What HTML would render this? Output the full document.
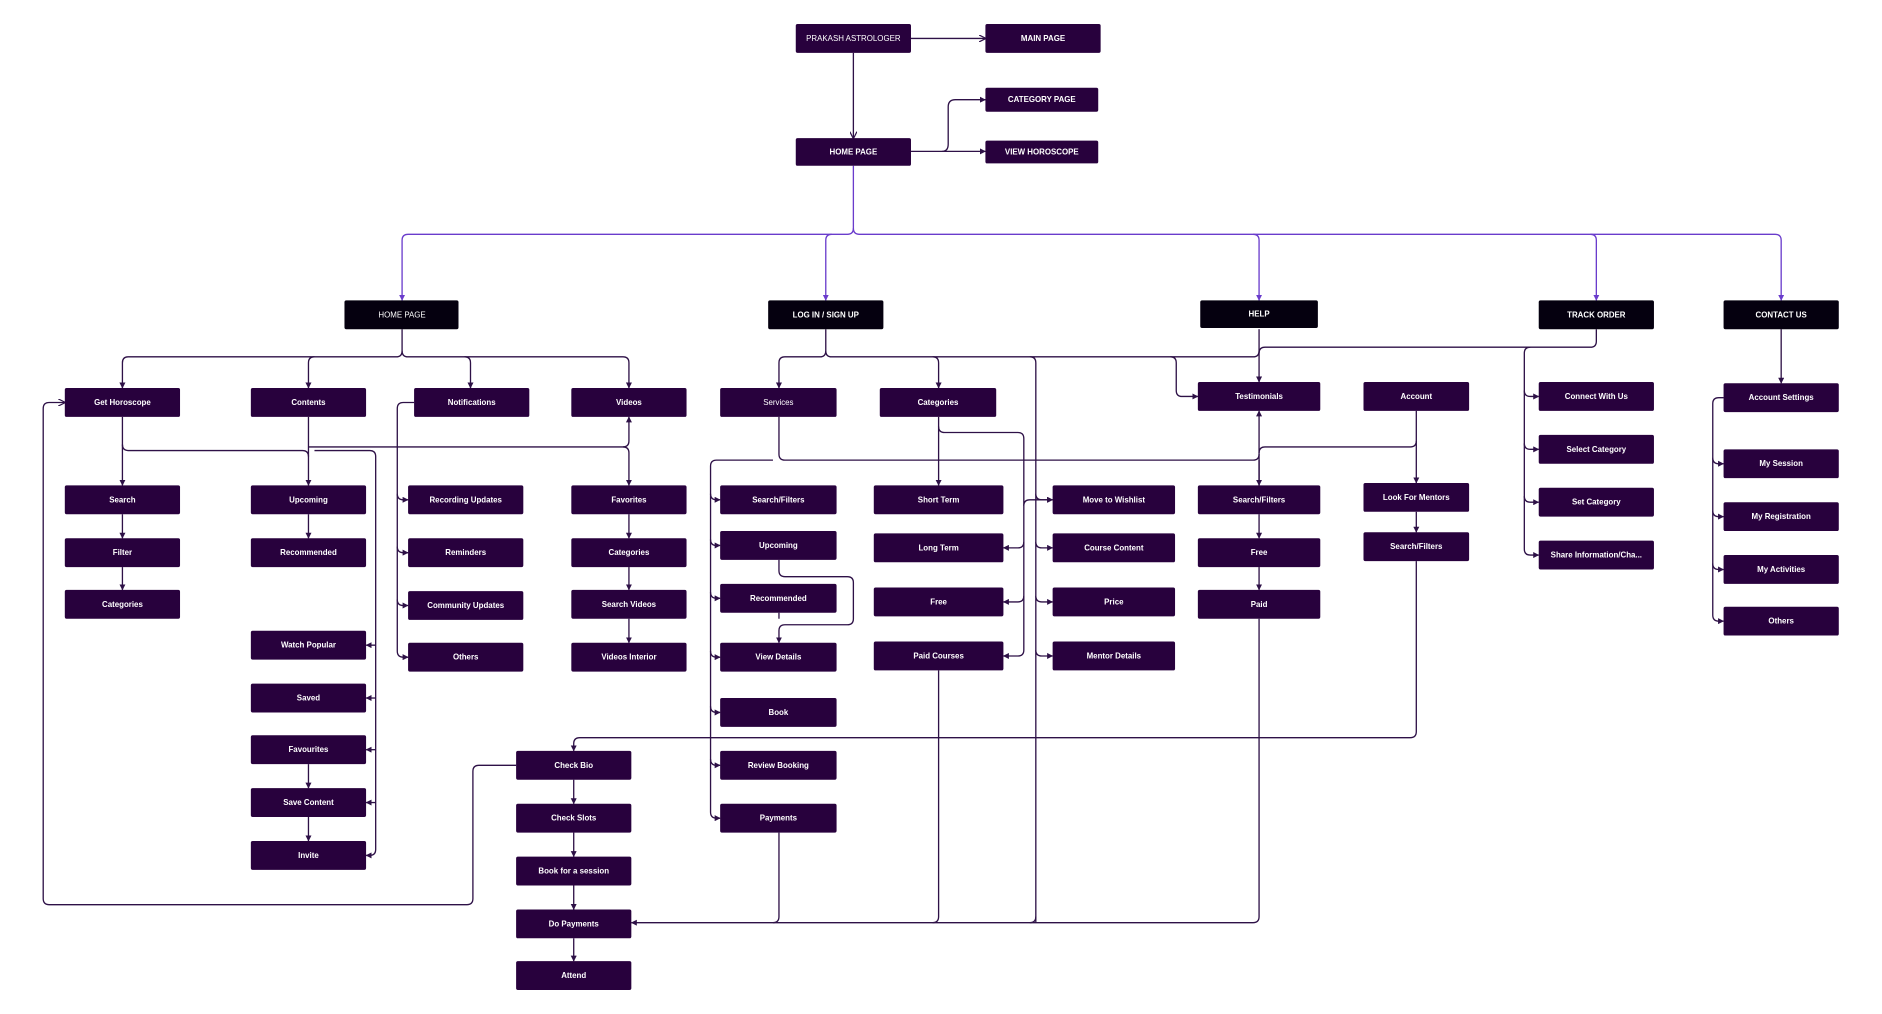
<!DOCTYPE html>
<html><head><meta charset="utf-8"><style>
html,body{margin:0;padding:0;background:#fff;}
svg{display:block}
text{font-family:"Liberation Sans",sans-serif;font-size:6.6px;font-weight:bold;fill:#fff;text-anchor:middle;dominant-baseline:central}
.b{fill:#28013d}
.k{fill:#05000f}
.l{fill:none;stroke:#2e1147;stroke-width:1.1;stroke-linejoin:round}
.p{fill:none;stroke:#6a3ccc;stroke-width:1.1;stroke-linejoin:round}
</style></head><body>
<svg width="1882" height="1014" viewBox="0 0 1568 844" preserveAspectRatio="none" xmlns="http://www.w3.org/2000/svg">
<defs>
<marker id="a" viewBox="0 0 6 6" refX="5.5" refY="3" markerWidth="5" markerHeight="5" orient="auto-start-reverse" markerUnits="userSpaceOnUse"><path d="M0,0L6,3L0,6z" fill="#2e1147"/></marker>
<marker id="o" viewBox="0 0 6 6" refX="5.5" refY="3" markerWidth="6" markerHeight="6" orient="auto" markerUnits="userSpaceOnUse"><path d="M0,0L6,3L0,6" fill="none" stroke="#2e1147"/></marker>
<marker id="ap" viewBox="0 0 6 6" refX="5.5" refY="3" markerWidth="5" markerHeight="5" orient="auto" markerUnits="userSpaceOnUse"><path d="M0,0L6,3L0,6z" fill="#6a3ccc"/></marker>
</defs>

<path class="l" d="M759,32H821" marker-end="url(#o)"/>
<path class="l" d="M711,44V115" marker-end="url(#o)"/>
<path class="l" d="M759,126H821" marker-end="url(#a)"/>
<path class="l" d="M785,126Q790,126 790,120V89Q790,83 796,83H821" marker-end="url(#a)"/>
<path class="p" d="M711,138V190Q711,195 706,195H340Q335,195 335,200V250" marker-end="url(#ap)"/>
<path class="p" d="M711,190Q711,195 716,195H1479Q1484,195 1484,200V250" marker-end="url(#ap)"/>
<path class="p" d="M693,195Q688,195 688,200V250" marker-end="url(#ap)"/>
<path class="p" d="M1044,195Q1049,195 1049,200V250" marker-end="url(#ap)"/>
<path class="p" d="M1325,195Q1330,195 1330,200V250" marker-end="url(#ap)"/>

<path class="l" d="M335,274V292Q335,297 330,297H107Q102,297 102,302V323" marker-end="url(#a)"/>
<path class="l" d="M335,292Q335,297 340,297H519Q524,297 524,302V323" marker-end="url(#a)"/>
<path class="l" d="M262,297Q257,297 257,302V323" marker-end="url(#a)"/>
<path class="l" d="M387,297Q392,297 392,302V323" marker-end="url(#a)"/>
<path class="l" d="M102,347V404" marker-end="url(#a)"/>
<path class="l" d="M102,370Q102,375 107,375H252Q257,375 257,380" />
<path class="l" d="M257,347V404" marker-end="url(#a)"/>
<path class="l" d="M257,372H519Q524,372 524,367V347" marker-end="url(#a)"/>
<path class="l" d="M519,372Q524,372 524,377V404" marker-end="url(#a)"/>
<path class="l" d="M262,375H308Q313,375 313,380V707Q313,712 308,712H305" marker-end="url(#a)"/>
<path class="l" d="M313,537H305" marker-end="url(#a)"/>
<path class="l" d="M313,581H305" marker-end="url(#a)"/>
<path class="l" d="M313,624H305" marker-end="url(#a)"/>
<path class="l" d="M313,668H305" marker-end="url(#a)"/>
<path class="l" d="M345,335H336Q331,335 331,340V542Q331,547 336,547H340" marker-end="url(#a)"/>
<path class="l" d="M331,411Q331,416 336,416H340" marker-end="url(#a)"/>
<path class="l" d="M331,455Q331,460 336,460H340" marker-end="url(#a)"/>
<path class="l" d="M331,499Q331,504 336,504H340" marker-end="url(#a)"/>
<path class="l" d="M102,428V448" marker-end="url(#a)"/>
<path class="l" d="M102,472V491" marker-end="url(#a)"/>
<path class="l" d="M257,428V448" marker-end="url(#a)"/>
<path class="l" d="M257,636V656" marker-end="url(#a)"/>
<path class="l" d="M257,680V700" marker-end="url(#a)"/>
<path class="l" d="M524,428V448" marker-end="url(#a)"/>
<path class="l" d="M524,472V491" marker-end="url(#a)"/>
<path class="l" d="M524,515V535" marker-end="url(#a)"/>
<path class="l" d="M430,637H399Q394,637 394,642V748Q394,753 389,753H41Q36,753 36,748V340Q36,335 41,335H54" marker-end="url(#o)"/>

<path class="l" d="M688,274V292Q688,297 683,297H654Q649,297 649,302V323" marker-end="url(#a)"/>
<path class="l" d="M688,292Q688,297 693,297H1044Q1049,297 1049,292"/>
<path class="l" d="M777,297Q782,297 782,302V323" marker-end="url(#a)"/>
<path class="l" d="M858,297Q863,297 863,302V768"/>
<path class="l" d="M975,297Q980,297 980,302V325Q980,330 985,330H998" marker-end="url(#a)"/>
<path class="l" d="M1049,274V318" marker-end="url(#a)"/>
<path class="l" d="M1049,294Q1049,289 1054,289H1325Q1330,289 1330,284V274"/>
<path class="l" d="M1275,289Q1270,289 1270,294V457Q1270,462 1275,462H1282" marker-end="url(#a)"/>
<path class="l" d="M1270,325Q1270,330 1275,330H1282" marker-end="url(#a)"/>
<path class="l" d="M1270,369Q1270,374 1275,374H1282" marker-end="url(#a)"/>
<path class="l" d="M1270,413Q1270,418 1275,418H1282" marker-end="url(#a)"/>
<path class="l" d="M649,347V378Q649,383 654,383H1044Q1049,383 1049,378"/>
<path class="l" d="M644,383H597Q592,383 592,388V676Q592,681 597,681H600" marker-end="url(#a)"/>
<path class="l" d="M592,411Q592,416 597,416H600" marker-end="url(#a)"/>
<path class="l" d="M592,449Q592,454 597,454H600" marker-end="url(#a)"/>
<path class="l" d="M592,493Q592,498 597,498H600" marker-end="url(#a)"/>
<path class="l" d="M592,542Q592,547 597,547H600" marker-end="url(#a)"/>
<path class="l" d="M592,588Q592,593 597,593H600" marker-end="url(#a)"/>
<path class="l" d="M592,632Q592,637 597,637H600" marker-end="url(#a)"/>
<path class="l" d="M649,466V475Q649,480 654,480H706Q711,480 711,485V515Q711,520 706,520H654Q649,520 649,525V535" marker-end="url(#a)"/>
<path class="l" d="M649,510V515"/>
<path class="l" d="M1049,404V342" marker-end="url(#a)"/>
<path class="l" d="M1049,383V404" marker-end="url(#a)"/>
<path class="l" d="M1049,377Q1049,372 1054,372H1175Q1180,372 1180,367"/>
<path class="l" d="M1180,342V402" marker-end="url(#a)"/>
<path class="l" d="M1180,426V443" marker-end="url(#a)"/>
<path class="l" d="M1180,467V609Q1180,614 1175,614H483Q478,614 478,619V625" marker-end="url(#a)"/>
<path class="l" d="M1049,428V448" marker-end="url(#a)"/>
<path class="l" d="M1049,472V491" marker-end="url(#a)"/>
<path class="l" d="M782,347V404" marker-end="url(#a)"/>
<path class="l" d="M782,355Q782,360 787,360H848Q853,360 853,365V541Q853,546 848,546H836" marker-end="url(#a)"/>
<path class="l" d="M853,451Q853,456 848,456H836" marker-end="url(#a)"/>
<path class="l" d="M853,496Q853,501 848,501H836" marker-end="url(#a)"/>
<path class="l" d="M853,421Q853,416 858,416H877" marker-end="url(#a)"/>
<path class="l" d="M863,411Q863,416 868,416H877" marker-end="url(#a)"/>
<path class="l" d="M863,451Q863,456 868,456H877" marker-end="url(#a)"/>
<path class="l" d="M863,496Q863,501 868,501H877" marker-end="url(#a)"/>
<path class="l" d="M863,541Q863,546 868,546H877" marker-end="url(#a)"/>
<path class="l" d="M1049,515V763Q1049,768 1044,768H526" marker-end="url(#a)"/>
<path class="l" d="M649,693V763Q649,768 644,768"/>
<path class="l" d="M782,558V763Q782,768 777,768"/>
<path class="l" d="M863,763Q863,768 858,768"/>
<path class="l" d="M478,649V669" marker-end="url(#a)"/>
<path class="l" d="M478,693V713" marker-end="url(#a)"/>
<path class="l" d="M478,737V757" marker-end="url(#a)"/>
<path class="l" d="M478,781V800" marker-end="url(#a)"/>
<path class="l" d="M1484,274V319" marker-end="url(#a)"/>
<path class="l" d="M1436,331H1432Q1427,331 1427,336V512Q1427,517 1432,517H1436" marker-end="url(#a)"/>
<path class="l" d="M1427,381Q1427,386 1432,386H1436" marker-end="url(#a)"/>
<path class="l" d="M1427,425Q1427,430 1432,430H1436" marker-end="url(#a)"/>
<path class="l" d="M1427,469Q1427,474 1432,474H1436" marker-end="url(#a)"/>

<g>
<rect class="b" x="663" y="20" width="96" height="24" rx="1.5"/><text x="711" y="32" style="font-weight:normal">PRAKASH ASTROLOGER</text>
<rect class="b" x="821" y="20" width="96" height="24" rx="1.5"/><text x="869" y="32">MAIN PAGE</text>
<rect class="b" x="821" y="73" width="94" height="20" rx="1.5"/><text x="868" y="83">CATEGORY PAGE</text>
<rect class="b" x="821" y="117" width="94" height="19" rx="1.5"/><text x="868" y="126.5">VIEW HOROSCOPE</text>
<rect class="b" x="663" y="115" width="96" height="23" rx="1.5"/><text x="711" y="126.5">HOME PAGE</text>

<rect class="k" x="287" y="250" width="95" height="24" rx="1.5"/><text x="335" y="262" style="font-weight:normal">HOME PAGE</text>
<rect class="k" x="640" y="250" width="96" height="24" rx="1.5"/><text x="688" y="262">LOG IN / SIGN UP</text>
<rect class="k" x="1000" y="250" width="98" height="23" rx="1.5"/><text x="1049" y="261.5">HELP</text>
<rect class="k" x="1282" y="250" width="96" height="24" rx="1.5"/><text x="1330" y="262">TRACK ORDER</text>
<rect class="k" x="1436" y="250" width="96" height="24" rx="1.5"/><text x="1484" y="262">CONTACT US</text>

<rect class="b" x="54" y="323" width="96" height="24" rx="1.5"/><text x="102" y="335">Get Horoscope</text>
<rect class="b" x="209" y="323" width="96" height="24" rx="1.5"/><text x="257" y="335">Contents</text>
<rect class="b" x="345" y="323" width="96" height="24" rx="1.5"/><text x="393" y="335">Notifications</text>
<rect class="b" x="476" y="323" width="96" height="24" rx="1.5"/><text x="524" y="335">Videos</text>
<rect class="b" x="54" y="404" width="96" height="24" rx="1.5"/><text x="102" y="416">Search</text>
<rect class="b" x="54" y="448" width="96" height="24" rx="1.5"/><text x="102" y="460">Filter</text>
<rect class="b" x="54" y="491" width="96" height="24" rx="1.5"/><text x="102" y="503">Categories</text>
<rect class="b" x="209" y="404" width="96" height="24" rx="1.5"/><text x="257" y="416">Upcoming</text>
<rect class="b" x="209" y="448" width="96" height="24" rx="1.5"/><text x="257" y="460">Recommended</text>
<rect class="b" x="209" y="525" width="96" height="24" rx="1.5"/><text x="257" y="537">Watch Popular</text>
<rect class="b" x="209" y="569" width="96" height="24" rx="1.5"/><text x="257" y="581">Saved</text>
<rect class="b" x="209" y="612" width="96" height="24" rx="1.5"/><text x="257" y="624">Favourites</text>
<rect class="b" x="209" y="656" width="96" height="24" rx="1.5"/><text x="257" y="668">Save Content</text>
<rect class="b" x="209" y="700" width="96" height="24" rx="1.5"/><text x="257" y="712">Invite</text>
<rect class="b" x="340" y="404" width="96" height="24" rx="1.5"/><text x="388" y="416">Recording Updates</text>
<rect class="b" x="340" y="448" width="96" height="24" rx="1.5"/><text x="388" y="460">Reminders</text>
<rect class="b" x="340" y="492" width="96" height="24" rx="1.5"/><text x="388" y="504">Community Updates</text>
<rect class="b" x="340" y="535" width="96" height="24" rx="1.5"/><text x="388" y="547">Others</text>
<rect class="b" x="476" y="404" width="96" height="24" rx="1.5"/><text x="524" y="416">Favorites</text>
<rect class="b" x="476" y="448" width="96" height="24" rx="1.5"/><text x="524" y="460">Categories</text>
<rect class="b" x="476" y="491" width="96" height="24" rx="1.5"/><text x="524" y="503">Search Videos</text>
<rect class="b" x="476" y="535" width="96" height="24" rx="1.5"/><text x="524" y="547">Videos Interior</text>

<rect class="b" x="600" y="323" width="97" height="24" rx="1.5"/><text x="648.5" y="335" style="font-weight:normal">Services</text>
<rect class="b" x="733" y="323" width="97" height="24" rx="1.5"/><text x="781.5" y="335">Categories</text>
<rect class="b" x="600" y="404" width="97" height="24" rx="1.5"/><text x="648.5" y="416">Search/Filters</text>
<rect class="b" x="600" y="442" width="97" height="24" rx="1.5"/><text x="648.5" y="454">Upcoming</text>
<rect class="b" x="600" y="486" width="97" height="24" rx="1.5"/><text x="648.5" y="498">Recommended</text>
<rect class="b" x="600" y="535" width="97" height="24" rx="1.5"/><text x="648.5" y="547">View Details</text>
<rect class="b" x="600" y="581" width="97" height="24" rx="1.5"/><text x="648.5" y="593">Book</text>
<rect class="b" x="600" y="625" width="97" height="24" rx="1.5"/><text x="648.5" y="637">Review Booking</text>
<rect class="b" x="600" y="669" width="97" height="24" rx="1.5"/><text x="648.5" y="681">Payments</text>
<rect class="b" x="728" y="404" width="108" height="24" rx="1.5"/><text x="782" y="416">Short Term</text>
<rect class="b" x="728" y="444" width="108" height="24" rx="1.5"/><text x="782" y="456">Long Term</text>
<rect class="b" x="728" y="489" width="108" height="24" rx="1.5"/><text x="782" y="501">Free</text>
<rect class="b" x="728" y="534" width="108" height="24" rx="1.5"/><text x="782" y="546">Paid Courses</text>
<rect class="b" x="877" y="404" width="102" height="24" rx="1.5"/><text x="928" y="416">Move to Wishlist</text>
<rect class="b" x="877" y="444" width="102" height="24" rx="1.5"/><text x="928" y="456">Course Content</text>
<rect class="b" x="877" y="489" width="102" height="24" rx="1.5"/><text x="928" y="501">Price</text>
<rect class="b" x="877" y="534" width="102" height="24" rx="1.5"/><text x="928" y="546">Mentor Details</text>
<rect class="b" x="998" y="318" width="102" height="24" rx="1.5"/><text x="1049" y="330">Testimonials</text>
<rect class="b" x="998" y="404" width="102" height="24" rx="1.5"/><text x="1049" y="416">Search/Filters</text>
<rect class="b" x="998" y="448" width="102" height="24" rx="1.5"/><text x="1049" y="460">Free</text>
<rect class="b" x="998" y="491" width="102" height="24" rx="1.5"/><text x="1049" y="503">Paid</text>
<rect class="b" x="1136" y="318" width="88" height="24" rx="1.5"/><text x="1180" y="330">Account</text>
<rect class="b" x="1136" y="402" width="88" height="24" rx="1.5"/><text x="1180" y="414">Look For Mentors</text>
<rect class="b" x="1136" y="443" width="88" height="24" rx="1.5"/><text x="1180" y="455">Search/Filters</text>
<rect class="b" x="1282" y="318" width="96" height="24" rx="1.5"/><text x="1330" y="330">Connect With Us</text>
<rect class="b" x="1282" y="362" width="96" height="24" rx="1.5"/><text x="1330" y="374">Select Category</text>
<rect class="b" x="1282" y="406" width="96" height="24" rx="1.5"/><text x="1330" y="418">Set Category</text>
<rect class="b" x="1282" y="450" width="96" height="24" rx="1.5"/><text x="1330" y="462">Share Information/Cha...</text>
<rect class="b" x="1436" y="319" width="96" height="24" rx="1.5"/><text x="1484" y="331">Account Settings</text>
<rect class="b" x="1436" y="374" width="96" height="24" rx="1.5"/><text x="1484" y="386">My Session</text>
<rect class="b" x="1436" y="418" width="96" height="24" rx="1.5"/><text x="1484" y="430">My Registration</text>
<rect class="b" x="1436" y="462" width="96" height="24" rx="1.5"/><text x="1484" y="474">My Activities</text>
<rect class="b" x="1436" y="505" width="96" height="24" rx="1.5"/><text x="1484" y="517">Others</text>
<rect class="b" x="430" y="625" width="96" height="24" rx="1.5"/><text x="478" y="637">Check Bio</text>
<rect class="b" x="430" y="669" width="96" height="24" rx="1.5"/><text x="478" y="681">Check Slots</text>
<rect class="b" x="430" y="713" width="96" height="24" rx="1.5"/><text x="478" y="725">Book for a session</text>
<rect class="b" x="430" y="757" width="96" height="24" rx="1.5"/><text x="478" y="769">Do Payments</text>
<rect class="b" x="430" y="800" width="96" height="24" rx="1.5"/><text x="478" y="812">Attend</text>
</g>
</svg>
</body></html>
